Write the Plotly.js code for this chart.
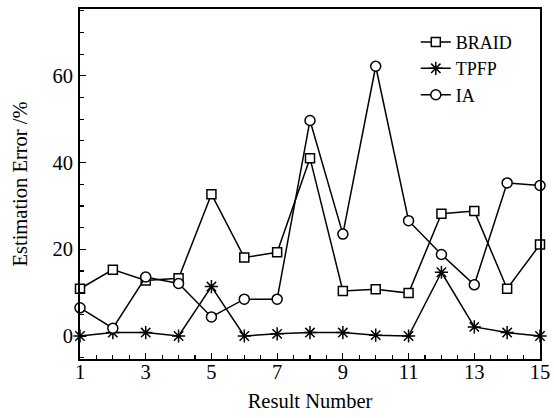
<!DOCTYPE html>
<html>
<head>
<meta charset="utf-8">
<script src="https://cdn.plot.ly/plotly-3.0.1.min.js"></script>
<style>html,body{margin:0;padding:0;background:#fff;}#chart{width:554px;height:418px;}</style>
</head>
<body>
<div id="chart"></div>
<script>
var resultNumbers = [1,2,3,4,5,6,7,8,9,10,11,12,13,14,15];
var braid = [10.9,15.3,12.8,13.3,32.7,18.1,19.3,41.0,10.4,10.8,9.9,28.2,28.8,10.9,21.1];
var tpfp  = [0,0.8,0.8,0,11.4,0,0.5,0.8,0.8,0.2,0,14.7,2.1,0.8,0];
var ia    = [6.5,1.8,13.6,12.1,4.4,8.5,8.5,49.7,23.5,62.2,26.6,18.8,11.8,35.3,34.7];
var seriesNames = ['BRAID','TPFP','IA'];
var xTickVals = [1,3,5,7,9,11,13,15];
var yTickVals = [0,20,40,60];

var font = 'Liberation Serif';
function trace(y, name, symbol, size, fill) {
  return {
    x: resultNumbers, y: y, name: name, type: 'scatter', mode: 'lines+markers',
    line: {color: '#000', width: 1.5},
    marker: {symbol: symbol, size: size, color: fill, line: {color: '#000', width: 1.5}},
    cliponaxis: false
  };
}
var data = [
  trace(braid, seriesNames[0], 'square', 9, '#fff'),
  trace(tpfp, seriesNames[1], 'asterisk-open', 11, '#000'),
  trace(ia, seriesNames[2], 'circle', 10, '#fff')
];
var layout = {
  width: 554, height: 418,
  margin: {l: 80, r: 14, t: 9, b: 59},
  paper_bgcolor: '#fff', plot_bgcolor: '#fff',
  font: {family: font, size: 19, color: '#000'},
  showlegend: true,
  legend: {x: 0.73, y: 0.958, xanchor: 'left', yanchor: 'top', bgcolor: 'rgba(0,0,0,0)',
           font: {family: font, size: 18}, tracegroupgap: 0},
  xaxis: {
    range: [1, 15], tickmode: 'array', tickvals: xTickVals, ticktext: xTickVals.map(String),
    ticks: 'inside', ticklen: 6, tickwidth: 1.2, tickcolor: '#000',
    minor: {dtick: 0.5, tick0: 1, ticks: 'inside', ticklen: 4, tickwidth: 1.2, tickcolor: '#000', showgrid: false},
    showline: true, linecolor: '#000', linewidth: 1.8, mirror: true,
    showgrid: false, zeroline: false,
    tickfont: {family: font, size: 20.5}, ticklabelstandoff: -6,
    title: {text: 'Result Number', font: {family: font, size: 20.5}, standoff: 11}
  },
  yaxis: {
    range: [-5.3, 75.4], tickmode: 'array', tickvals: yTickVals, ticktext: yTickVals.map(String),
    ticks: 'inside', ticklen: 6, tickwidth: 1.2, tickcolor: '#000',
    minor: {dtick: 5, tick0: 0, ticks: 'inside', ticklen: 4, tickwidth: 1.2, tickcolor: '#000', showgrid: false},
    showline: true, linecolor: '#000', linewidth: 1.8, mirror: true,
    showgrid: false, zeroline: false,
    tickfont: {family: font, size: 20.5}, ticklabelstandoff: 1,
    title: {text: 'Estimation Error /%', font: {family: font, size: 20.5}, standoff: 19}
  }
};
Plotly.newPlot('chart', data, layout, {displayModeBar: false, staticPlot: true});
</script>
</body>
</html>
